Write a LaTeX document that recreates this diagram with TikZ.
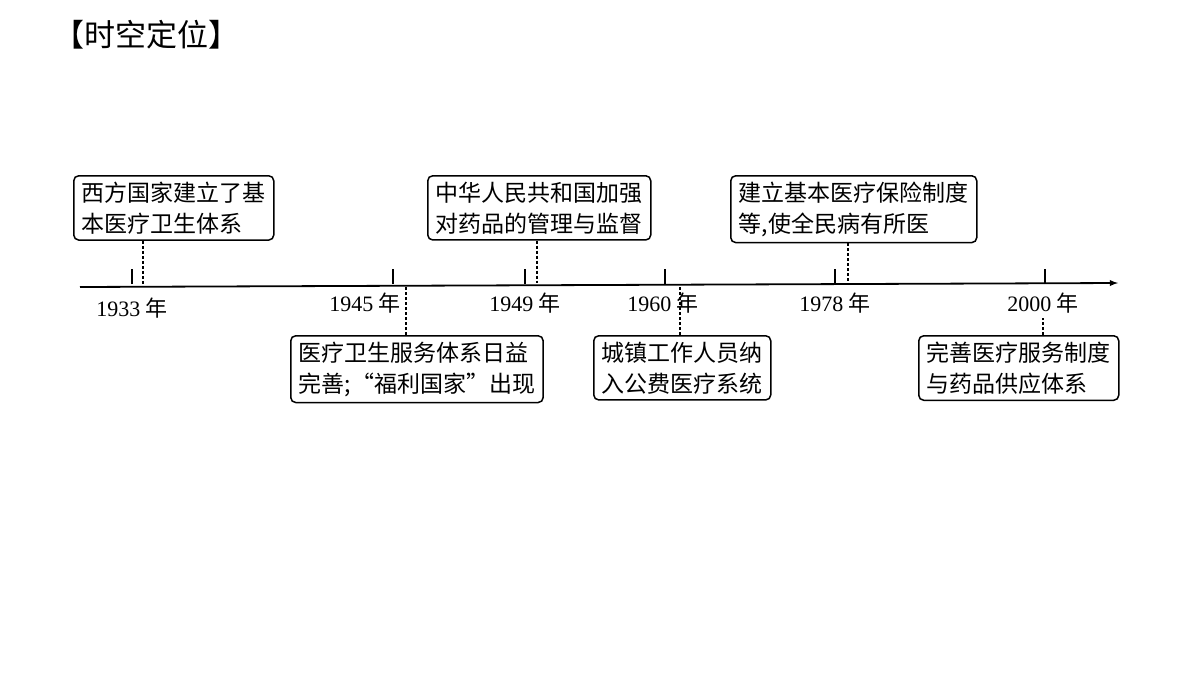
\documentclass[tikz,border=0pt]{standalone}
\usepackage{fontspec}
\setmainfont{Liberation Serif}
\newfontfamily\cjk{Noto Sans CJK SC}
\usetikzlibrary{positioning,calc}
\tikzset{
event/.style={
  draw,line width=1.5pt,rounded corners=5pt,
  font=\cjk\fontsize{23}{31}\selectfont,
  align=left,inner xsep=8pt,inner ysep=6pt,anchor=north west
  },
year/.style={font=\fontsize{22}{24}\selectfont},
link/.style={line width=1.5pt,densely dashed}
}
\begin{document}
\begin{tikzpicture}[x=1pt,y=-1pt]
    \useasboundingbox (0,0) rectangle (1200,675);
    \node [anchor=west,font=\cjk\fontsize{31}{34}\selectfont] (title) at (50,35) {【时空定位】};
    % axis
    \coordinate (s) at (80,287);
    \coordinate (e) at (1118,283);
    \draw [line width=1.8pt,-latex] (s) -- (e);
    \foreach \x/\n in {132/a,393/b,525/c,665/d,835/e,1045/f}
    {
        \coordinate (t\n) at (\x,284);
        \draw [line width=1.5pt] (t\n) -- ++(0,-15);
    }
    \node [year] (ya) at (132,308) {1933 \cjk 年};
    \node [year] (yb) at (365,303) {1945 \cjk 年};
    \node [year] (yc) at (525,303) {1949 \cjk 年};
    \node [year] (yd) at (663,303) {1960 \cjk 年};
    \node [year] (ye) at (835,303) {1978 \cjk 年};
    \node [year] (yf) at (1043,303) {2000 \cjk 年};
    % events
    \node [event] (ea) at (73,175) {西方国家建立了基\\本医疗卫生体系};
    \node [event] (ec) at (427,175) {中华人民共和国加强\\对药品的管理与监督};
    \node [event] (ee) at (730,175) {建立基本医疗保险制度\\等,使全民病有所医};
    \node [event] (eb) at (290,335) {医疗卫生服务体系日益\\完善;“福利国家”出现};
    \node [event] (ed) at (593,335) {城镇工作人员纳\\入公费医疗系统};
    \node [event] (ef) at (918,335) {完善医疗服务制度\\与药品供应体系};
    \draw [link] (ea.south -| 143,0) -- (143,285);
    \draw [link] (ec.south -| 537,0) -- (537,283);
    \draw [link] (ee.south -| 848,0) -- (848,283);
    \draw [link] (eb.north -| 406,0) -- (406,285);
    \draw [link] (ed.north -| 680,0) -- (680,284);
    \draw [link] (ef.north -| 1043,0) -- (1043,318);
\end{tikzpicture}
\end{document}
